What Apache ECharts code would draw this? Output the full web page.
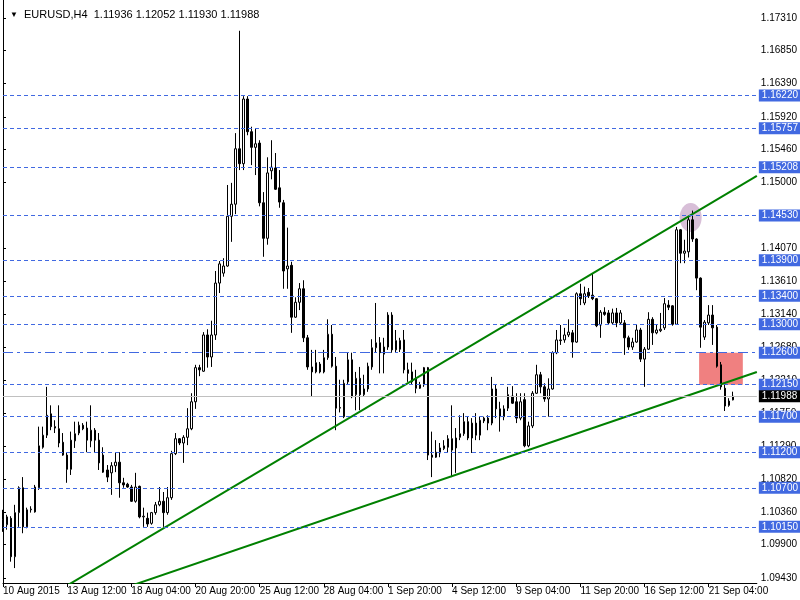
<!DOCTYPE html>
<html><head><meta charset="utf-8">
<script src="https://cdn.jsdelivr.net/npm/echarts@6/dist/echarts.min.js"></script>
<style>html,body{margin:0;padding:0;background:#fff}#c{width:800px;height:600px}</style>
</head><body><div id="c"></div>
<script>
// ---- data ----
const symbolName = 'EURUSD,H4';
const lastQuote = ['1.11936', '1.12052', '1.11930', '1.11988'];
const xTickLabels = ['10 Aug 2015', '13 Aug 12:00', '18 Aug 04:00', '20 Aug 20:00', '25 Aug 12:00', '28 Aug 04:00',
  '1 Sep 20:00', '4 Sep 12:00', '9 Sep 04:00', '11 Sep 20:00', '16 Sep 12:00', '21 Sep 04:00'];
const yTickValues = [1.0943, 1.0990, 1.1036, 1.1082, 1.1129, 1.1175, 1.1221, 1.1268, 1.1314, 1.1361,
  1.1407, 1.1453, 1.1500, 1.1546, 1.1592, 1.1639, 1.1685, 1.1731];
const levelLines = [1.16220, 1.15757, 1.15208, 1.14530, 1.13900, 1.13400, 1.13000, 1.12150, 1.11700, 1.11200, 1.10700, 1.10150];
const dashDotLevel = 1.12600;
const bidPrice = 1.11988;
const trendUpper = [[10, 1.09124], [188, 1.15087]];
const trendLower = [[30, 1.09284], [188, 1.12329]];
const zoneBox = [[173.6, 1.12600], [184.5, 1.12150]];
const highlightSpot = [171.5, 1.14503];
const futureSlots = 6;
// [open, close, low, high] per H4 bar
const candles = [
[1.1025,1.1013,1.1008,1.1039],[1.1018,1.1029,1.1011,1.1032],[1.1027,1.0973,1.0966,1.1030],[1.0973,1.1035,1.0957,1.1046],
[1.1035,1.1070,1.1015,1.1072],[1.1070,1.1015,1.1006,1.1085],[1.1015,1.1039,1.1013,1.1042],[1.1039,1.1040,1.1035,1.1044],
[1.1036,1.1071,1.1035,1.1074],[1.1070,1.1129,1.1067,1.1156],[1.1127,1.1144,1.1125,1.1156],[1.1144,1.1172,1.1140,1.1212],
[1.1174,1.1156,1.1151,1.1186],[1.1156,1.1154,1.1147,1.1165],[1.1153,1.1133,1.1127,1.1186],[1.1134,1.1116,1.1115,1.1147],
[1.1116,1.1096,1.1077,1.1120],[1.1096,1.1137,1.1088,1.1149],[1.1136,1.1146,1.1126,1.1163],[1.1147,1.1158,1.1144,1.1163],
[1.1158,1.1153,1.1151,1.1161],[1.1154,1.1137,1.1120,1.1163],[1.1136,1.1151,1.1127,1.1186],[1.1151,1.1137,1.1120,1.1154],
[1.1137,1.1105,1.1095,1.1147],[1.1116,1.1092,1.1091,1.1127],[1.1095,1.1085,1.1078,1.1102],[1.1091,1.1101,1.1060,1.1106],
[1.1101,1.1106,1.1092,1.1120],[1.1106,1.1077,1.1056,1.1120],[1.1077,1.1074,1.1070,1.1084],[1.1075,1.1071,1.1070,1.1077],
[1.1071,1.1051,1.1050,1.1074],[1.1051,1.1071,1.1049,1.1091],[1.1072,1.1029,1.1027,1.1073],[1.1029,1.1030,1.1015,1.1042],
[1.1027,1.1019,1.1015,1.1035],[1.1020,1.1035,1.1018,1.1036],[1.1035,1.1046,1.1032,1.1050],[1.1046,1.1051,1.1044,1.1071],
[1.1051,1.1035,1.1015,1.1064],[1.1035,1.1056,1.1032,1.1071],[1.1056,1.1118,1.1053,1.1122],[1.1118,1.1139,1.1116,1.1147],
[1.1139,1.1133,1.1130,1.1140],[1.1133,1.1141,1.1105,1.1144],[1.1141,1.1153,1.1130,1.1182],[1.1153,1.1191,1.1151,1.1203],
[1.1191,1.1239,1.1181,1.1243],[1.1239,1.1236,1.1227,1.1243],[1.1234,1.1285,1.1233,1.1289],[1.1285,1.1254,1.1239,1.1293],
[1.1254,1.1285,1.1240,1.1305],[1.1285,1.1358,1.1278,1.1375],[1.1358,1.1385,1.1344,1.1389],[1.1372,1.1382,1.1367,1.1393],
[1.1382,1.1452,1.1381,1.1496],[1.1452,1.1469,1.1416,1.1499],[1.1469,1.1547,1.1455,1.1569],[1.1547,1.1526,1.1517,1.1713],
[1.1526,1.1617,1.1517,1.1621],[1.1617,1.1571,1.1566,1.1621],[1.1571,1.1549,1.1524,1.1578],[1.1549,1.1554,1.1510,1.1576],
[1.1555,1.1471,1.1466,1.1559],[1.1471,1.1421,1.1395,1.1486],[1.1421,1.1513,1.1412,1.1535],[1.1516,1.1521,1.1504,1.1559],
[1.1520,1.1490,1.1489,1.1541],[1.1492,1.1472,1.1464,1.1517],[1.1471,1.1375,1.1350,1.1475],[1.1378,1.1382,1.1350,1.1436],
[1.1383,1.1310,1.1288,1.1388],[1.1310,1.1331,1.1309,1.1338],[1.1331,1.1350,1.1320,1.1358],[1.1350,1.1281,1.1275,1.1362],
[1.1281,1.1240,1.1236,1.1285],[1.1240,1.1233,1.1199,1.1264],[1.1233,1.1246,1.1231,1.1264],[1.1244,1.1233,1.1231,1.1247],
[1.1233,1.1253,1.1231,1.1264],[1.1253,1.1286,1.1250,1.1307],[1.1286,1.1241,1.1239,1.1299],[1.1241,1.1182,1.1151,1.1254],
[1.1182,1.1183,1.1176,1.1222],[1.1170,1.1217,1.1168,1.1222],[1.1219,1.1250,1.1216,1.1260],[1.1250,1.1198,1.1196,1.1260],
[1.1201,1.1224,1.1179,1.1233],[1.1224,1.1201,1.1179,1.1240],[1.1201,1.1209,1.1198,1.1229],[1.1209,1.1241,1.1205,1.1246],
[1.1240,1.1267,1.1236,1.1279],[1.1267,1.1274,1.1260,1.1330],[1.1274,1.1260,1.1231,1.1282],[1.1258,1.1268,1.1231,1.1281],
[1.1268,1.1313,1.1264,1.1317],[1.1313,1.1264,1.1260,1.1317],[1.1264,1.1277,1.1261,1.1292],[1.1277,1.1265,1.1261,1.1281],
[1.1278,1.1236,1.1231,1.1292],[1.1236,1.1231,1.1219,1.1246],[1.1233,1.1219,1.1215,1.1246],[1.1224,1.1210,1.1203,1.1236],
[1.1210,1.1215,1.1209,1.1219],[1.1215,1.1239,1.1212,1.1240],[1.1239,1.1116,1.1109,1.1240],[1.1116,1.1113,1.1085,1.1149],
[1.1113,1.1120,1.1112,1.1137],[1.1119,1.1126,1.1113,1.1133],[1.1125,1.1129,1.1123,1.1137],[1.1127,1.1139,1.1119,1.1144],
[1.1139,1.1123,1.1085,1.1186],[1.1126,1.1140,1.1091,1.1154],[1.1141,1.1146,1.1137,1.1172],[1.1146,1.1163,1.1143,1.1175],
[1.1163,1.1140,1.1137,1.1170],[1.1140,1.1161,1.1119,1.1168],[1.1161,1.1144,1.1137,1.1175],[1.1144,1.1165,1.1137,1.1170],
[1.1164,1.1168,1.1161,1.1170],[1.1168,1.1161,1.1151,1.1172],[1.1161,1.1209,1.1158,1.1226],[1.1209,1.1181,1.1168,1.1216],
[1.1181,1.1170,1.1149,1.1191],[1.1170,1.1181,1.1165,1.1186],[1.1182,1.1201,1.1178,1.1212],[1.1199,1.1189,1.1188,1.1213],
[1.1191,1.1168,1.1161,1.1203],[1.1168,1.1191,1.1165,1.1203],[1.1194,1.1129,1.1127,1.1203],[1.1129,1.1157,1.1127,1.1163],
[1.1157,1.1203,1.1154,1.1206],[1.1203,1.1229,1.1202,1.1243],[1.1229,1.1212,1.1203,1.1233],[1.1212,1.1195,1.1191,1.1217],
[1.1195,1.1209,1.1170,1.1224],[1.1209,1.1260,1.1208,1.1262],[1.1260,1.1278,1.1258,1.1292],[1.1277,1.1278,1.1271,1.1299],
[1.1278,1.1285,1.1274,1.1295],[1.1285,1.1289,1.1282,1.1307],[1.1288,1.1275,1.1253,1.1292],[1.1275,1.1343,1.1274,1.1345],
[1.1343,1.1336,1.1327,1.1357],[1.1330,1.1343,1.1327,1.1353],[1.1345,1.1340,1.1337,1.1351],[1.1341,1.1336,1.1334,1.1372],
[1.1336,1.1298,1.1296,1.1337],[1.1299,1.1317,1.1281,1.1320],[1.1317,1.1314,1.1312,1.1324],[1.1316,1.1302,1.1299,1.1320],
[1.1302,1.1316,1.1299,1.1322],[1.1316,1.1302,1.1296,1.1323],[1.1302,1.1316,1.1299,1.1320],[1.1302,1.1281,1.1257,1.1306],
[1.1281,1.1268,1.1264,1.1284],[1.1268,1.1275,1.1264,1.1281],[1.1275,1.1292,1.1274,1.1299],[1.1292,1.1251,1.1247,1.1295],
[1.1251,1.1265,1.1212,1.1268],[1.1265,1.1307,1.1264,1.1317],[1.1307,1.1288,1.1271,1.1310],[1.1288,1.1292,1.1286,1.1299],
[1.1291,1.1293,1.1289,1.1316],[1.1295,1.1329,1.1292,1.1337],[1.1327,1.1324,1.1320,1.1334],[1.1326,1.1300,1.1298,1.1327],
[1.1300,1.1433,1.1299,1.1437],[1.1433,1.1400,1.1386,1.1434],[1.1400,1.1403,1.1386,1.1419],[1.1402,1.1447,1.1394,1.1451],
[1.1447,1.1420,1.1416,1.1460],[1.1420,1.1365,1.1348,1.1421],[1.1365,1.1296,1.1267,1.1366],[1.1282,1.1303,1.1278,1.1306],
[1.1302,1.1313,1.1299,1.1327],[1.1313,1.1295,1.1271,1.1327],[1.1296,1.1241,1.1239,1.1299],[1.1243,1.1212,1.1208,1.1247],
[1.1210,1.1185,1.1178,1.1215],[1.1186,1.1192,1.1184,1.1196],[1.11936,1.11988,1.11930,1.12052]
];

// ---- H4 bar times (weekdays only) ----
function buildCategories(n) {
  const M = ['Jan','Feb','Mar','Apr','May','Jun','Jul','Aug','Sep','Oct','Nov','Dec'];
  const out = [];
  let t = Date.UTC(2015, 7, 10, 20);
  while (out.length < n) {
    const d = new Date(t);
    const wd = d.getUTCDay();
    if (wd !== 0 && wd !== 6) {
      out.push(d.getUTCDate() + ' ' + M[d.getUTCMonth()] + ' ' + String(d.getUTCHours()).padStart(2, '0') + ':00');
    }
    t += 4 * 3600 * 1000;
  }
  return out;
}
const categories = buildCategories(candles.length + futureSlots);

const FONT = "'Liberation Sans', 'DejaVu Sans', sans-serif";
const Y_MIN = 1.09360, Y_MAX = 1.17563;
const BLUE = '#4169E1';

const blueLabel = {
  show: true, position: 'end', distance: 2,
  formatter: p => Number(p.value).toFixed(5),
  color: '#fff', backgroundColor: BLUE, fontSize: 10, fontFamily: FONT,
  padding: [1, 6, 1, 3], lineHeight: 10
};

const markLineData = levelLines.map(v => ({
  yAxis: v,
  lineStyle: { color: BLUE, type: [4, 3], width: 1 },
  label: blueLabel
}));
markLineData.push({
  yAxis: dashDotLevel,
  lineStyle: { color: BLUE, type: [10, 4, 3, 4], width: 1 },
  label: blueLabel
});
markLineData.push({
  yAxis: bidPrice,
  lineStyle: { color: '#C0C0C0', type: 'solid', width: 1 },
  label: Object.assign({}, blueLabel, { backgroundColor: '#000' })
});

const chart = echarts.init(document.getElementById('c'), null, { renderer: 'canvas' });
chart.setOption({
  animation: false,
  backgroundColor: '#fff',
  title: {
    left: 5, top: 4,
    text: '{t|▼}  ' + symbolName + '  ' + lastQuote.join(' '),
    textStyle: {
      color: '#000', fontSize: 11, fontWeight: 'normal', fontFamily: FONT,
      rich: { t: { fontSize: 8, color: '#000' } }
    }
  },
  grid: { left: 3, right: 43, top: 0, bottom: 17, containLabel: false },
  xAxis: [
    {
      type: 'category', data: categories, boundaryGap: false,
      axisLine: { show: true, lineStyle: { color: '#000', width: 1 } },
      axisTick: { show: true, interval: i => i % 16 === 0, length: 4, lineStyle: { color: '#000' } },
      axisLabel: {
        interval: i => i % 16 === 0,
        formatter: (v, i) => xTickLabels[i / 16] || '',
        align: 'left', color: '#000', fontSize: 10, fontFamily: FONT, margin: 3
      },
      splitLine: { show: false }
    },
    { type: 'value', min: 0, max: categories.length - 1, show: false }
  ],
  yAxis: [
    {
      type: 'value', position: 'right', min: Y_MIN, max: Y_MAX, scale: true,
      axisLine: { show: true, lineStyle: { color: '#000', width: 1 } },
      axisTick: { show: true, customValues: yTickValues, length: 3, lineStyle: { color: '#000' } },
      axisLabel: {
        customValues: yTickValues, formatter: v => Number(v).toFixed(5),
        color: '#000', fontSize: 10, fontFamily: FONT, margin: 4
      },
      splitLine: { show: false }
    },
    {
      type: 'value', position: 'left', min: Y_MIN, max: Y_MAX, scale: true,
      axisLine: { show: true, lineStyle: { color: '#000', width: 1 } },
      axisTick: { show: false }, axisLabel: { show: false }, splitLine: { show: false }
    }
  ],
  series: [
    {
      type: 'scatter', xAxisIndex: 1, yAxisIndex: 0, silent: true, z: 1,
      data: [highlightSpot], symbol: 'circle', symbolSize: [22, 29],
      itemStyle: { color: '#D8BFD8', opacity: 1 },
      markArea: {
        silent: true,
        itemStyle: { color: '#F08080', opacity: 1 },
        data: [[{ coord: zoneBox[0] }, { coord: zoneBox[1] }]]
      }
    },
    {
      type: 'candlestick', xAxisIndex: 0, yAxisIndex: 0, z: 3, silent: true,
      data: candles, barWidth: 2,
      itemStyle: { color: '#fff', color0: '#000', borderColor: '#000', borderColor0: '#000', borderWidth: 1 },
      markLine: { silent: true, symbol: ['none', 'none'], animation: false, precision: 5, data: markLineData }
    },
    {
      type: 'line', xAxisIndex: 1, yAxisIndex: 0, data: trendUpper, showSymbol: false, silent: true, z: 4,
      lineStyle: { color: '#008000', width: 2 }
    },
    {
      type: 'line', xAxisIndex: 1, yAxisIndex: 0, data: trendLower, showSymbol: false, silent: true, z: 4,
      lineStyle: { color: '#008000', width: 2 }
    }
  ]
});
</script>
</body></html>
